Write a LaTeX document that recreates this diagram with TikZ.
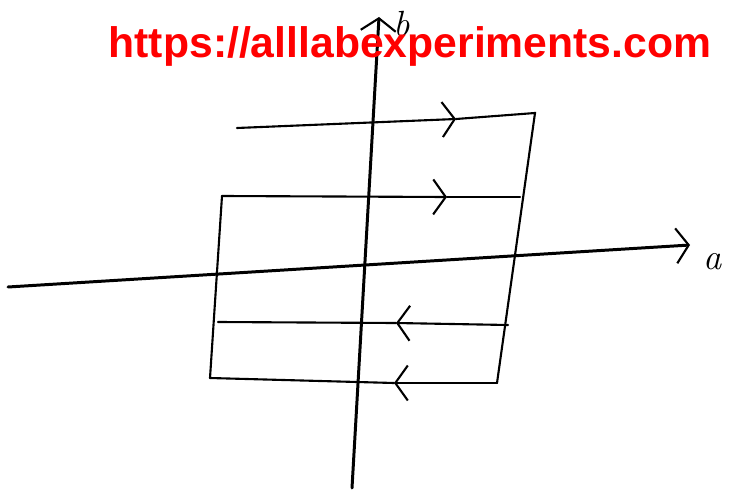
\documentclass[tikz,border=0pt]{standalone}
\usepackage{fontspec}
\setsansfont{Liberation Sans}
\usetikzlibrary{arrows.meta}
\tikzset{
  axis/.style={line width=1.7pt, line cap=round},
  loopline/.style={line width=1.2pt, line cap=round},
  barb/.style={-{Straight Barb[length=2.5mm,width=7mm,line width=1.2pt]}}
}
\begin{document}
\begin{tikzpicture}[x=0.02cm,y=-0.02cm]
			\useasboundingbox (0,0) rectangle (732,493);
			% axes
			\coordinate (hs) at (8,287);
			\coordinate (he) at (690,245);
			\coordinate (vs) at (352,488);
			\coordinate (ve) at (379,17);
			\draw[axis, barb] (hs) -- (he);
			\draw[axis, barb] (vs) -- (ve);
			\node[font=\huge\itshape] (blabel) at (402,24) {b};
			\node[font=\huge\itshape] (alabel) at (713,262) {a};
			% corners of the loop
			\coordinate (t1) at (237,128);
			\coordinate (t2) at (535,113);
			\coordinate (s1) at (222,196);
			\coordinate (s2) at (520,197);
			\coordinate (u1) at (218,322);
			\coordinate (u2) at (508,325);
			\coordinate (b1) at (210,378);
			\coordinate (b2) at (497,383);
			% arrow points
			\coordinate (ta) at (456,119);
			\coordinate (sa) at (447,197);
			\coordinate (ua) at (396,323);
			\coordinate (ba) at (394,383);
			\draw[loopline, barb] (t1) -- (ta);
			\draw[loopline] (ta) -- (t2) -- (b2);
			\draw[loopline, barb] (s1) -- (sa);
			\draw[loopline] (sa) -- (s2);
			\draw[loopline] (s1) -- (b1);
			\draw[loopline, barb] (u2) -- (ua);
			\draw[loopline] (ua) -- (u1);
			\draw[loopline, barb] (b2) -- (ba);
			\draw[loopline] (ba) -- (b1);
			% watermark
			\node[text=red, font=\sffamily\bfseries\fontsize{24.3}{28}\selectfont] (site) at (410,46) {https://alllabexperiments.com};
		\end{tikzpicture}
\end{document}
